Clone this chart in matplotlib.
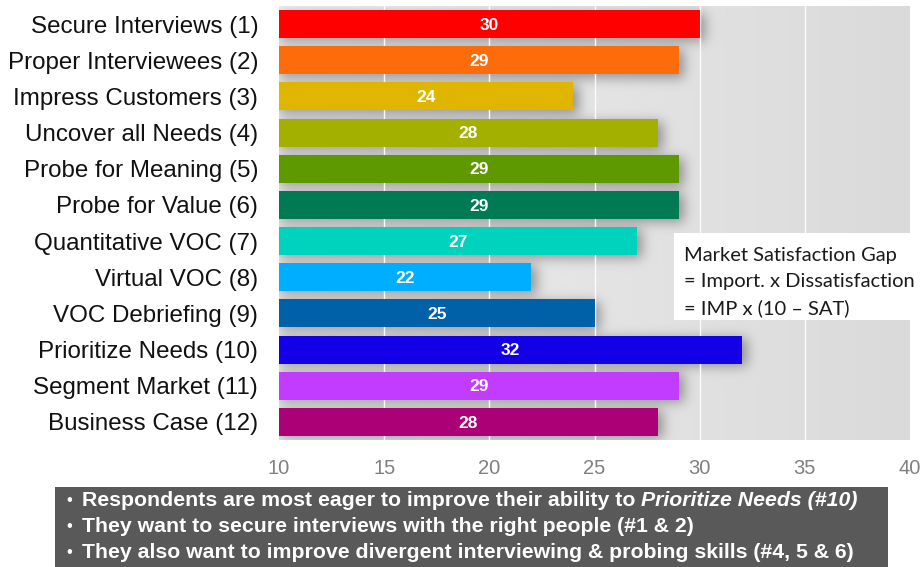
import matplotlib
matplotlib.use('Agg')
import matplotlib.pyplot as plt
from matplotlib.patches import Rectangle
from matplotlib.text import Annotation
import numpy as np

categories = ['Secure Interviews (1)', 'Proper Interviewees (2)', 'Impress Customers (3)',
              'Uncover all Needs (4)', 'Probe for Meaning (5)', 'Probe for Value (6)',
              'Quantitative VOC (7)', 'Virtual VOC (8)', 'VOC Debriefing (9)',
              'Prioritize Needs (10)', 'Segment Market (11)', 'Business Case (12)']
gap_scores = [30, 29, 24, 28, 29, 29, 27, 22, 25, 32, 29, 28]
bar_colors = ['#ff0000', '#fd6c0a', '#dfb500', '#a3b000', '#5f9900', '#007a52',
              '#00d3bd', '#00aeff', '#0060a8', '#1400e6', '#c23cff', '#ac0077']
x_ticks = [10, 15, 20, 25, 30, 35, 40]

note_lines = ['Market Satisfaction Gap', '= Import. x Dissatisfaction', '= IMP x (10 \u2013 SAT)']
bullet_lines = [('Respondents are most eager to improve their ability to ', 'Prioritize Needs (#10)'),
                ('They want to secure interviews with the right people (#1 & 2)', ''),
                ('They also want to improve divergent interviewing & probing skills (#4, 5 & 6)', '')]

arial = ['Liberation Sans', 'DejaVu Sans']
W, H = 922, 567

fig = plt.figure(figsize=(W / 100, H / 100), dpi=100)
fig.patch.set_facecolor('white')
ax = fig.add_axes([279 / W, 1 - 440 / H, 631 / W, 434 / H])

# background: grey gradient with soft drop shadows under the bars
nx, ny = 631, 434
xs = np.linspace(10, 40, nx)
ys = np.linspace(-0.5, 11.5, ny)
X, Y = np.meshgrid(xs, ys)
bar_h = 0.77
dx, dy = 5 / 21.0, 3 / 36.2
mask = np.zeros((ny, nx))
for i, v in enumerate(gap_scores):
    mask[(Y >= i - bar_h / 2 + dy) & (Y <= i + bar_h / 2 + dy) & (X <= v + dx)] = 1.0

sig = 6.0
k = np.arange(-20, 21)
kern = np.exp(-0.5 * (k / sig) ** 2)
kern /= kern.sum()
blur = np.apply_along_axis(lambda r: np.convolve(r, kern, mode='same'), 1, mask)
blur = np.apply_along_axis(lambda c: np.convolve(c, kern, mode='same'), 0, blur)

bg = 0.935 - 0.08 * (X - 10) / 30.0
shade = bg * (1 - 0.36 * blur)
img = np.dstack([shade, shade, shade])
ax.imshow(img, extent=(10, 40, 11.5, -0.5), origin='upper', aspect='auto',
          interpolation='bilinear', zorder=0)

for gx in x_ticks[1:-1]:
    ax.axvline(gx, color='white', lw=1.0, alpha=0.9, zorder=1)

ax.barh(range(len(gap_scores)), [v - 10 for v in gap_scores], left=10, height=bar_h,
        color=bar_colors, zorder=2)
for i, v in enumerate(gap_scores):
    ax.text((10 + v) / 2, i + 0.03, str(v), ha='center', va='center', color='white',
            fontsize=12.5, fontweight='bold', family=arial, zorder=3)

ax.set_xlim(10, 40)
ax.set_ylim(11.5, -0.5)
ax.set_xticks(x_ticks)
ax.set_xticklabels([str(t) for t in x_ticks], color='#808080', fontsize=14.5, family=arial)
ax.set_yticks(range(len(categories)))
ax.set_yticklabels(categories, fontsize=17.4, color='#111111', family=arial)
ax.tick_params(axis='x', length=0, pad=14)
ax.tick_params(axis='y', length=0, pad=15)
for s in ax.spines.values():
    s.set_visible(False)

# formula note box
fig.patches.append(Rectangle((674 / W, 1 - 320 / H), (W - 674) / W, 87 / H,
                             transform=fig.transFigure, facecolor='white',
                             edgecolor='none', zorder=5))
for j, line in enumerate(note_lines):
    fig.text(684 / W, 1 - (255 + 26.5 * j) / H, line, ha='left', va='center',
             fontsize=14.5, family=['Lato', 'DejaVu Sans'], color='#1a1a1a', zorder=6)

# summary box at the bottom
fig.patches.append(Rectangle((55 / W, 0), 833 / W, 80 / H, transform=fig.transFigure,
                             facecolor='#595959', edgecolor='none', zorder=5))
for j, (plain, ital) in enumerate(bullet_lines):
    yy = 1 - (500 + 26 * j) / H
    fig.text(66 / W, yy, '\u2022', ha='left', va='center', color='white',
             fontsize=12, family=arial, zorder=6)
    t = fig.text(82 / W, yy, plain, ha='left', va='center', color='white',
                 fontsize=15.3, fontweight='bold', family=arial, zorder=6)
    if ital:
        a = Annotation(ital, xy=(1, 0.5), xycoords=t, ha='left', va='center',
                       color='white', fontsize=15.3, fontweight='bold', style='italic',
                       family=arial, annotation_clip=False)
        a.set_zorder(6)
        fig.add_artist(a)

fig.savefig('out.png', dpi=100)
